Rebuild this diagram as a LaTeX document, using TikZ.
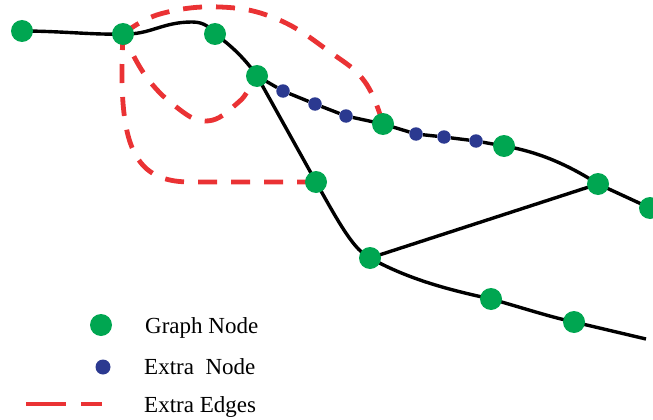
\documentclass[tikz,border=0pt]{standalone}
\usepackage{fontspec}
\setmainfont{Liberation Serif}
\usetikzlibrary{positioning}
\definecolor{nodegreen}{RGB}{0,166,81}
\definecolor{nodeblue}{RGB}{43,57,144}
\definecolor{edgered}{RGB}{234,50,52}
\pgfdeclarelayer{bg}
\pgfsetlayers{bg,main}

\begin{document}
\begin{tikzpicture}[
  x=1pt, y=-1pt,
  gnode/.style={circle, fill=nodegreen, inner sep=0pt, minimum size=22pt},
  xnode/.style={circle, fill=nodeblue, inner sep=0pt, minimum size=13.5pt},
  link/.style={draw=black, line width=3.4pt},
  xlink/.style={draw=edgered, line width=4.8pt, dash pattern=on 19pt off 14pt},
  lbl/.style={anchor=base west, inner sep=0pt, font=\fontsize{23}{27}\selectfont}
]
\useasboundingbox (0,0) rectangle (653,420);

% graph nodes
\node[gnode] (n1) at (22,31) {};
\node[gnode] (n2) at (123,34) {};
\node[gnode] (n3) at (215,34) {};
\node[gnode] (n4) at (257,76) {};
\node[gnode] (n5) at (383,124) {};
\node[gnode] (n6) at (504,146) {};
\node[gnode] (n7) at (598,184) {};
\node[gnode] (n8) at (650,208) {};
\node[gnode] (n9) at (316,182) {};
\node[gnode] (n10) at (370,258) {};
\node[gnode] (n11) at (491,299) {};
\node[gnode] (n12) at (574,322) {};
\coordinate (tail) at (646,339);

% extra nodes
\node[xnode] (x1) at (283,91) {};
\node[xnode] (x2) at (315,104) {};
\node[xnode] (x3) at (346,116) {};
\node[xnode] (x4) at (416,134) {};
\node[xnode] (x5) at (444,137) {};
\node[xnode] (x6) at (476,141) {};

\begin{pgfonlayer}{bg}
% extra edges
\draw[xlink] plot[smooth, tension=0.7] coordinates {(n2.center) (160,14) (220,7) (277,19) (330,52) (365,82) (n5.center)};
\draw[xlink, shorten <=20pt] plot[smooth, tension=0.7] coordinates {(n4.center) (233,107) (205,121) (175,106) (145,75) (n2.center)};
\draw[xlink] (n9.center) -- (190,182) .. controls (130,182) and (118,140) .. (n2.center);
% graph edges
\draw[link] (n1.center) .. controls (60,31) and (95,35) .. (n2.center);
\draw[link] (n2.center) .. controls (150,35) and (162,22) .. (192,22) .. controls (205,22) and (210,28) .. (n3.center);
\draw[link] (n3.center) .. controls (232,46) and (246,60) .. (n4.center);
\draw[link] (n4.center) -- (x1) -- (x2) -- (x3) -- (n5.center) -- (x4) -- (x5) -- (x6) -- (n6.center);
\draw[link] (n6.center) .. controls (540,152) and (570,166) .. (n7.center) -- (n8.center);
\draw[link] (n4.center) -- (n9.center) .. controls (340,225) and (354,250) .. (n10.center);
\draw[link] (n10.center) -- (n7.center);
\draw[link] (n10.center) .. controls (410,280) and (450,290) .. (n11.center) .. controls (520,307) and (550,317) .. (n12.center) -- (tail);
\end{pgfonlayer}

% legend
\node[gnode] (lgraph) at (101,325) {};
\node[xnode, minimum size=15pt] (lextra) at (103,367) {};
\coordinate (lred1) at (26,404);
\coordinate (lred2) at (102,404);
\draw[xlink, dash pattern=on 40pt off 15pt] (lred1) -- (lred2);
\node[lbl] (tgraph) at (145,333) {Graph Node};
\node[lbl] (textra) at (144,374) {Extra\ \ Node};
\node[lbl] (tedges) at (144,412) {Extra Edges};
\end{tikzpicture}
\end{document}
